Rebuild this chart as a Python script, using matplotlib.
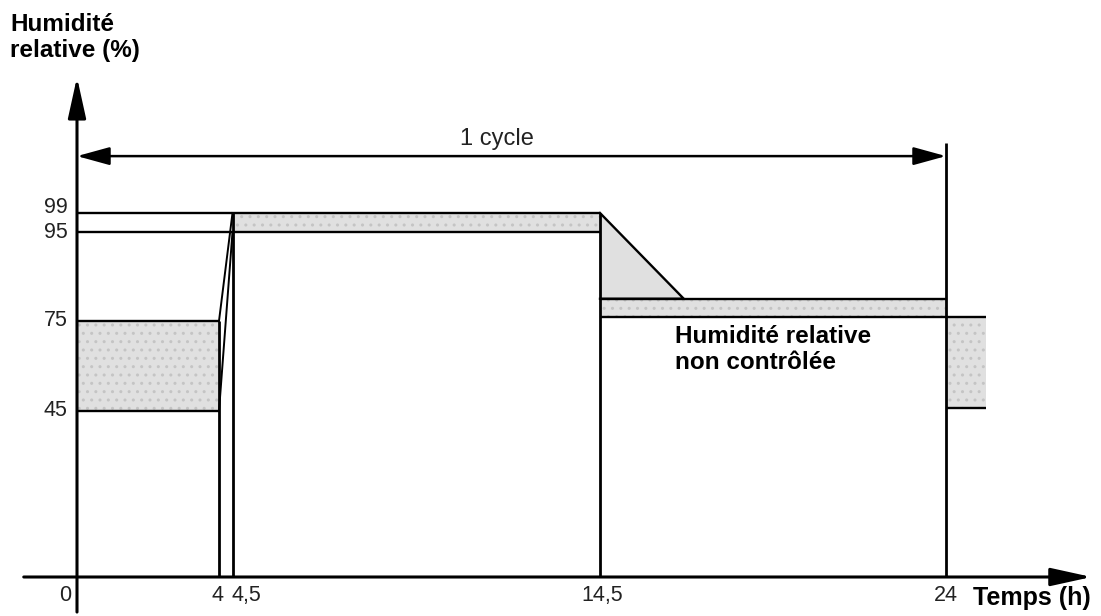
import numpy as np
import matplotlib.pyplot as plt

plt.rcParams['font.family'] = ['Liberation Sans', 'DejaVu Sans']

# ==== values of the test cycle (time in h, relative humidity in %) ====
x_ticks = [0, 4, 4.5, 14.5, 24]
x_labels = ['0', '4', '4,5', '14,5', '24']
y_ticks = [99, 95, 75, 45]
y_labels = ['99', '95', '75', '45']

rest_box = (0, 4, 45, 75)          # t start, t end, RH low, RH high
ramp_low = ([4, 4.5], [45, 95])
ramp_high = ([4, 4.5], [75, 99])
humid_band = (4.5, 14.5, 95, 99)
drop_t = [14.5, 14.5, 16.8]
drop_h = [99, 80, 80]
free_band = (14.5, 24, 76, 80)
next_box = (24, 25.1, 46, 76)
cycle = (0, 24, 114.5)             # start, end, height of the arrow
cycle_top = 118

# the drawing is a sketch, not to scale -> piecewise linear scales
x_anchor = [-5, 0, 4, 4.5, 14.5, 24, 35]
x_pix = [-100.5, 77, 219, 232.5, 600, 946, 1346.4]
y_anchor = [-20, 0, 45, 75, 95, 99, 200]
y_pix = [-34.8, 39, 205, 295, 384, 403, 773.7]

fx = lambda v: np.interp(v, x_anchor, x_pix)
fx_inv = lambda p: np.interp(p, x_pix, x_anchor)
fy = lambda v: np.interp(v, y_anchor, y_pix)
fy_inv = lambda p: np.interp(p, y_pix, y_anchor)

fig = plt.figure(figsize=(11.01, 6.16), dpi=100)
ax = fig.add_axes([0, 0, 1, 1])
ax.set_xscale('function', functions=(fx, fx_inv))
ax.set_yscale('function', functions=(fy, fy_inv))
ax.set_xlim(fx_inv(0), fx_inv(1101))
ax.set_ylim(fy_inv(0), fy_inv(616))
ax.axis('off')

gray = '#e0e0e0'
lw_main = 2.0
lw_band = 1.7

def box(b):
    t0, t1, lo, hi = b
    ax.fill_between([t0, t1], [lo, lo], [hi, hi], color=gray, lw=0, zorder=1)
    ax.fill_between([t0, t1], [lo, lo], [hi, hi], facecolor='none',
                    edgecolor='#c4c4c4', hatch='..', lw=0, zorder=1)
    ax.hlines([lo, hi], t0, t1, colors='k', lw=lw_band, zorder=3)

box(rest_box)
box(humid_band)
box(free_band)
box(next_box)

ax.fill(drop_t, drop_h, color=gray, lw=0, zorder=1)
ax.plot(drop_t[::2] + [drop_t[1]], [drop_h[0], drop_h[2], drop_h[1]], color='k', lw=lw_band, zorder=3)

# lines 95/99 from the axis to the humid band
ax.hlines([humid_band[2], humid_band[3]], 0, humid_band[0], colors='k', lw=lw_band, zorder=3)

# ramps
ax.plot(*ramp_low, color='k', lw=1.4, zorder=3)
ax.plot(*ramp_high, color='k', lw=1.4, zorder=3)

# verticals
ax.vlines(4, 0, rest_box[3], colors='k', lw=lw_main, zorder=3)
ax.vlines(4.5, 0, humid_band[3], colors='k', lw=lw_main, zorder=3)
ax.vlines(14.5, 0, humid_band[3], colors='k', lw=lw_main, zorder=3)
ax.vlines(24, 0, cycle_top, colors='k', lw=lw_main, zorder=3)

# axes with arrows
axis_style = dict(arrowstyle='-|>,head_length=2.5,head_width=0.55', mutation_scale=10,
                  color='k', lw=2.2, shrinkA=0, shrinkB=0)
ax.annotate('', xy=(28.0, 0), xytext=(-1.5, 0), arrowprops=axis_style, zorder=4)
ax.annotate('', xy=(0, 136), xytext=(0, -9.5), arrowprops=axis_style, zorder=4)

# cycle arrow
cyc_style = dict(arrowstyle='<|-|>,head_length=2.0,head_width=0.55', mutation_scale=10,
                 color='k', lw=1.8, shrinkA=0, shrinkB=0)
ax.annotate('', xy=(cycle[1], cycle[2]), xytext=(cycle[0], cycle[2]), arrowprops=cyc_style)
ax.annotate('1 cycle', xy=(11.7, cycle[2]), xytext=(0, 8), textcoords='offset points',
            ha='center', va='baseline', fontsize=17, color='#222222')

# tick labels
y_offs = [4.3, 0, 0, 0]
for v, lab, dy in zip(y_ticks, y_labels, y_offs):
    ax.annotate(lab, xy=(0, v), xytext=(-7, dy), textcoords='offset points',
                ha='right', va='center', fontsize=15.5, color='#222222')
x_offs = [-8.6, -1.4, 9.7, 1.4, 0]
for v, lab, dx in zip(x_ticks, x_labels, x_offs):
    ax.annotate(lab, xy=(v, 0), xytext=(dx, -13), textcoords='offset points',
                ha='center', va='center', fontsize=15.5, color='#222222')

# titles / notes
fig.text(10 / 1101, 1 - 13 / 616, 'Humidité\nrelative (%)', ha='left', va='top',
         fontsize=17.5, fontweight='bold', linespacing=1.15)
fig.text(973 / 1101, 1 - 598 / 616, 'Temps (h)', ha='left', va='center',
         fontsize=18, fontweight='bold')
fig.text(675 / 1101, 1 - 325 / 616, 'Humidité relative\nnon contrôlée', ha='left', va='top',
         fontsize=17.5, fontweight='bold', linespacing=1.15)

fig.savefig('out.png', dpi=100)
